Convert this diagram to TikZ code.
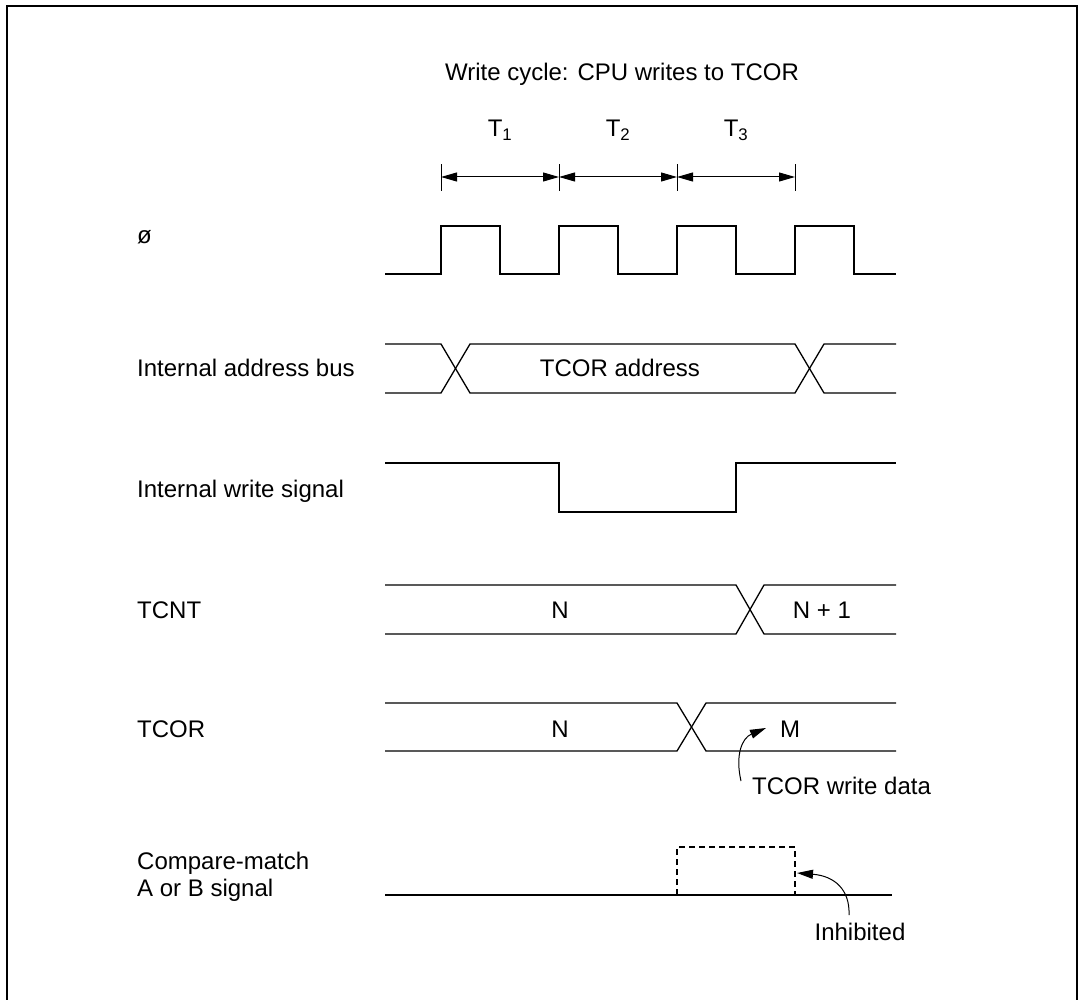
\documentclass[tikz,border=0pt]{standalone}
\usepackage{fontspec}
\setmainfont{Liberation Sans}
\usetikzlibrary{arrows.meta}
\begin{document}
\begin{tikzpicture}[x=1pt,y=-1pt,
  sig/.style={line width=1.3pt, line join=miter},
  dim/.style={line width=1pt, {Triangle[length=16pt,width=9pt]}-{Triangle[length=16pt,width=9pt]}},
  tick/.style={line width=1pt},
  lbl/.style={anchor=base west, inner sep=0pt, font=\fontsize{24}{28}\selectfont},
  ctr/.style={anchor=base, inner sep=0pt, font=\fontsize{24}{28}\selectfont},
  callout/.style={line width=1pt, -{Triangle[length=16pt,width=9pt]}},
  dsh/.style={line width=1.3pt, dash pattern=on 6pt off 4pt}]
\useasboundingbox (0,0) rectangle (1082,1000);
% frame
\draw[line width=1.3pt] (7,1000) -- (7,6) -- (1077,6) -- (1077,1000);

% title
\node[ctr] (title) at (622,81) {Write cycle: CPU writes to TCOR};

% T dimension marks
\coordinate (k0) at (441,177);
\coordinate (k1) at (559,177);
\coordinate (k2) at (677,177);
\coordinate (k3) at (795,177);
\foreach \k in {k0,k1,k2,k3} \draw[tick] ([yshift=-14pt]\k) -- ([yshift=13pt]\k);
\draw[dim] (k0) -- (k1);
\draw[dim] (k1) -- (k2);
\draw[dim] (k2) -- (k3);
\node[ctr] (t1) at (500,137) {T\textsubscript{1}};
\node[ctr] (t2) at (618,137) {T\textsubscript{2}};
\node[ctr] (t3) at (736,137) {T\textsubscript{3}};

% clock
\node[lbl] (lphi) at (137,244) {ø};
\draw[sig] (385,274) -- (441,274) -- (441,226) -- (500,226) -- (500,274)
  -- (559,274) -- (559,226) -- (618,226) -- (618,274)
  -- (677,274) -- (677,226) -- (736,226) -- (736,274)
  -- (795,274) -- (795,226) -- (854,226) -- (854,274) -- (896,274);

% internal address bus
\node[lbl] (laddr) at (137,377) {Internal address bus};
\draw[sig] (385,344) -- (441,344) -- (470,393) -- (795,393) -- (824,344) -- (896,344);
\draw[sig] (385,393) -- (441,393) -- (470,344) -- (795,344) -- (824,393) -- (896,393);
\node[ctr] (vaddr) at (620,377) {TCOR address};

% internal write signal
\node[lbl] (lwr) at (137,497) {Internal write signal};
\draw[sig] (385,463) -- (559,463) -- (559,512) -- (736,512) -- (736,463) -- (896,463);

% TCNT
\node[lbl] (ltcnt) at (137,618) {TCNT};
\draw[sig] (385,585) -- (736,585) -- (764,634) -- (896,634);
\draw[sig] (385,634) -- (736,634) -- (764,585) -- (896,585);
\node[ctr] (vn1) at (560,618) {N};
\node[ctr] (vn2) at (822,618) {N + 1};

% TCOR
\node[lbl] (ltcor) at (137,737) {TCOR};
\draw[sig] (385,703) -- (677,703) -- (706,751) -- (896,751);
\draw[sig] (385,751) -- (677,751) -- (706,703) -- (896,703);
\node[ctr] (vn3) at (560,737) {N};
\node[ctr] (vm) at (790,737) {M};
\node[lbl] (lwd) at (752,794) {TCOR write data};
\coordinate (wdfrom) at (741,781);
\coordinate (wdto) at (766,728);
\draw[callout] (wdfrom) .. controls (735,755) and (742,738) .. (wdto);

% compare match
\node[lbl] (lcm1) at (137,869) {Compare-match};
\node[lbl] (lcm2) at (137,896) {A or B signal};
\draw[sig] (385,895) -- (892,895);
\draw[dsh] (677,895) -- (677,847) -- (795,847) -- (795,895);
\node[ctr] (linh) at (860,940) {Inhibited};
\coordinate (inhfrom) at (849,915);
\coordinate (inhto) at (797,873);
\draw[callout] (inhfrom) .. controls (850,890) and (835,876) .. (inhto);
\end{tikzpicture}
\end{document}
